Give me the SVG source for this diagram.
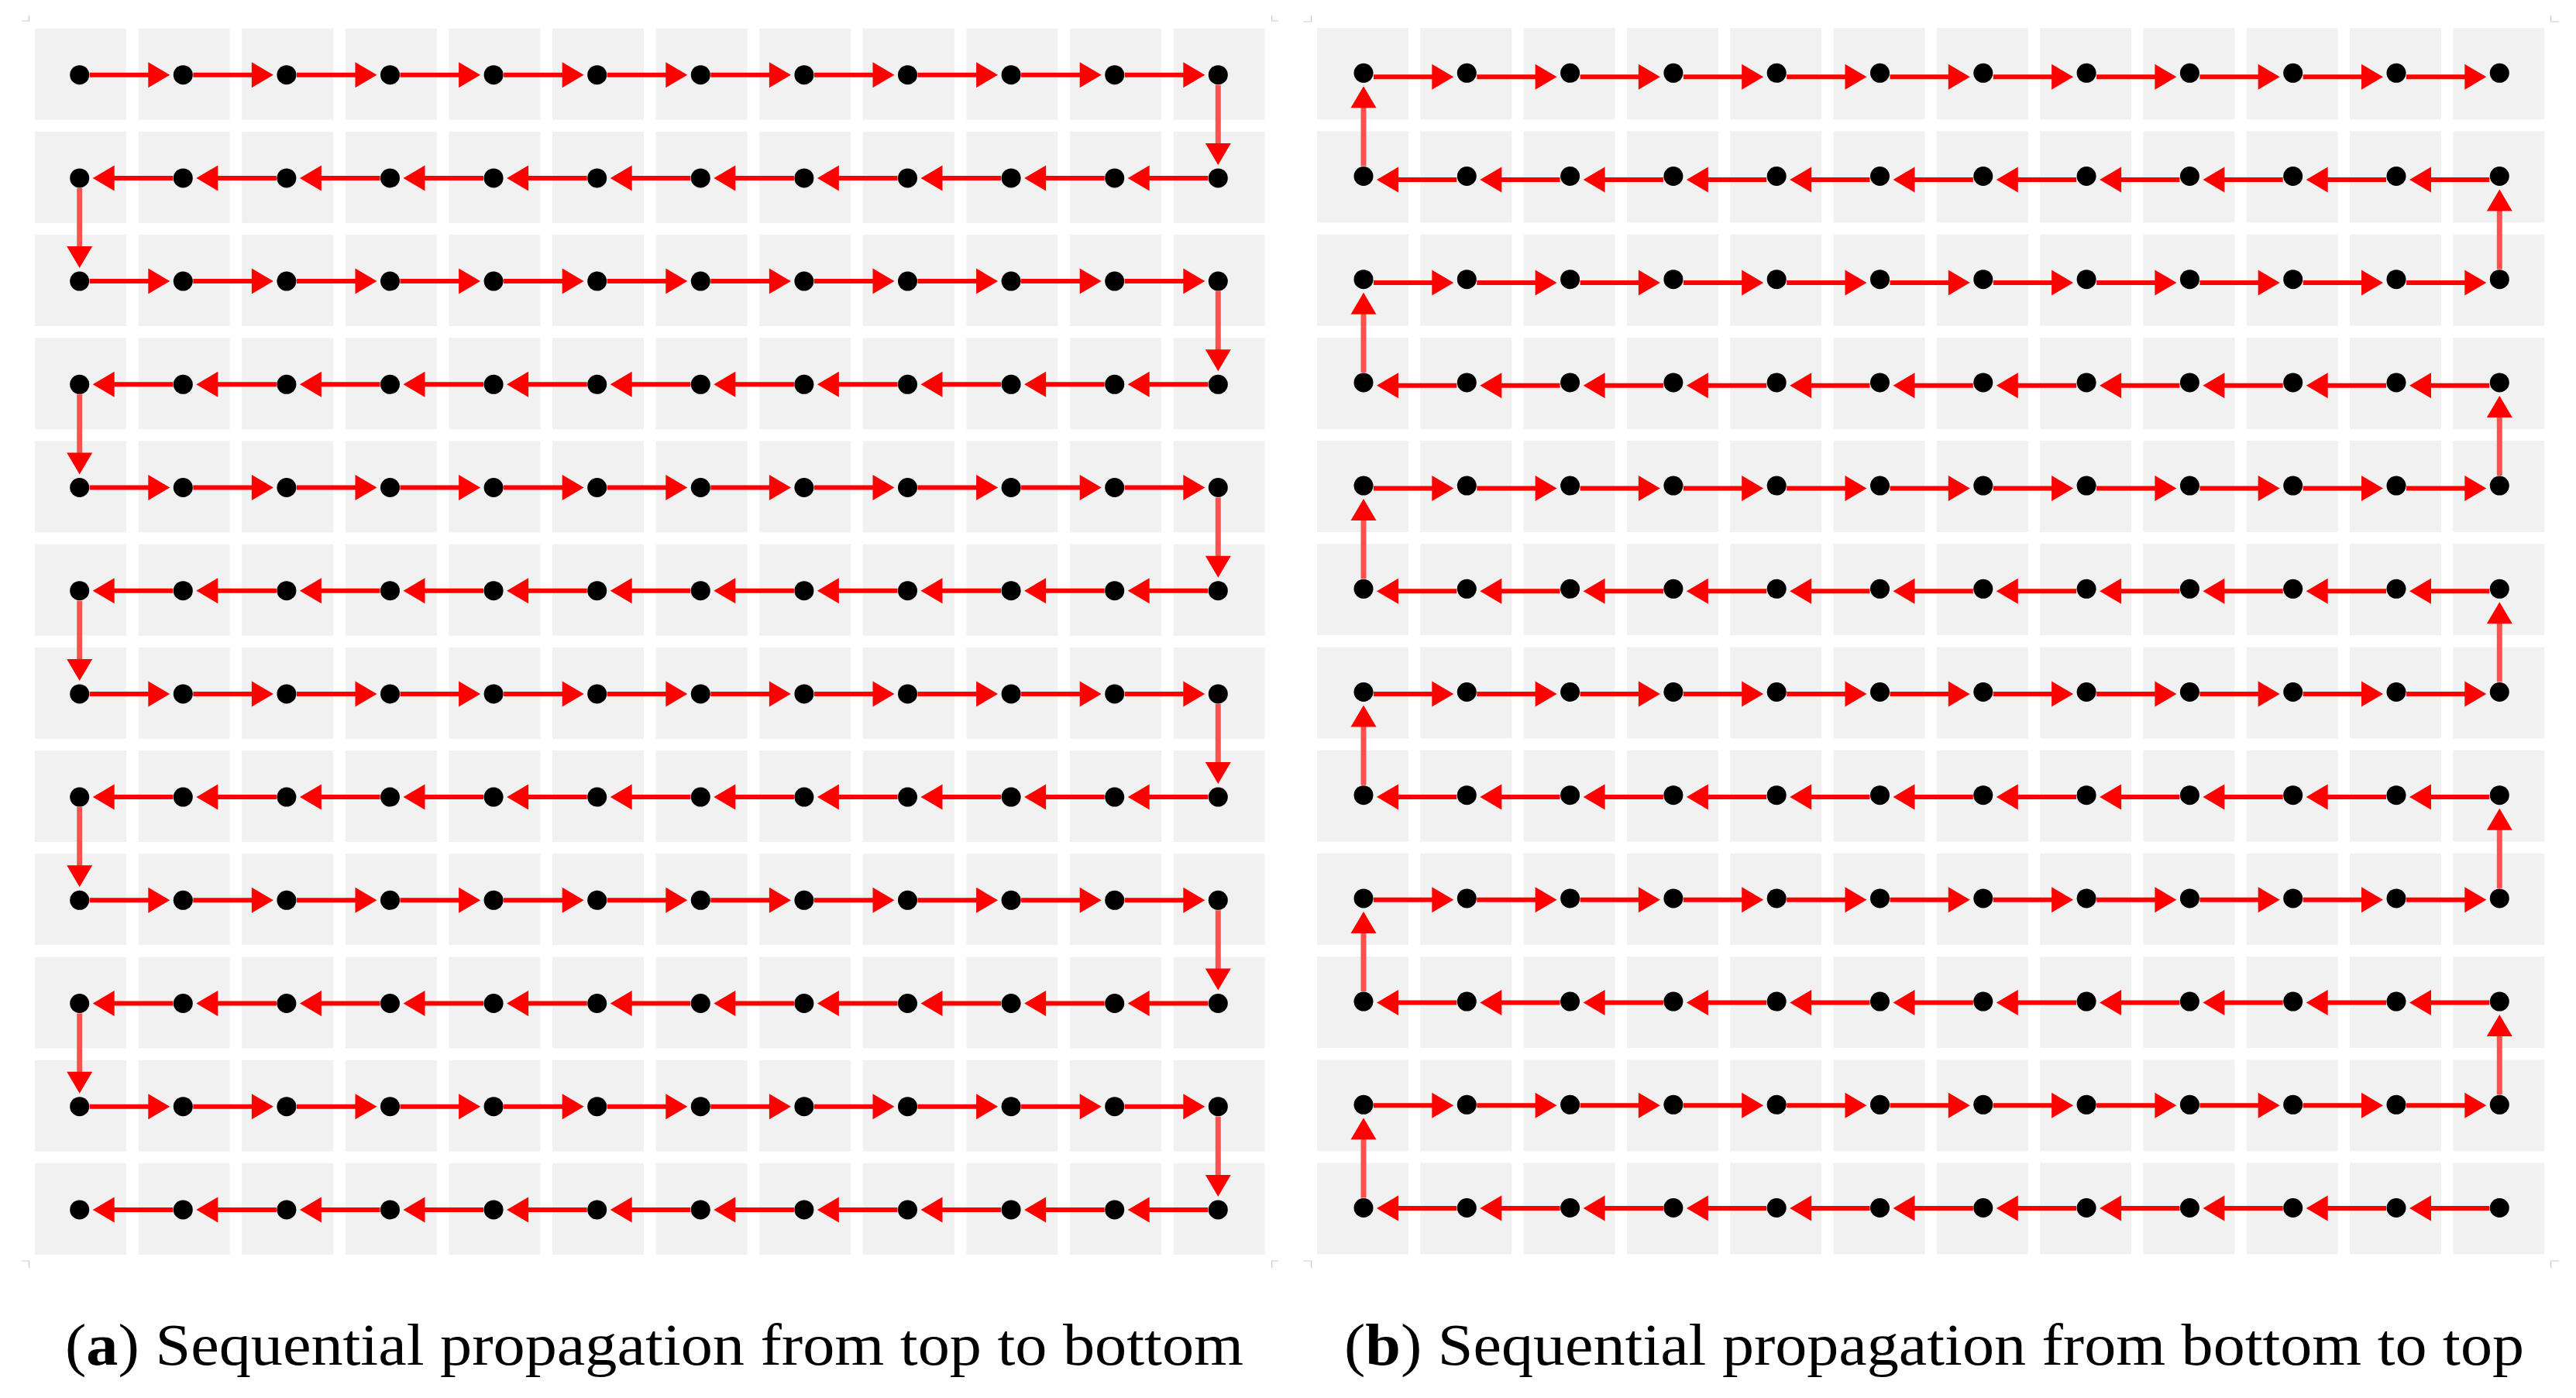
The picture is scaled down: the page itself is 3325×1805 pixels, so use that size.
<svg xmlns="http://www.w3.org/2000/svg" xmlns:xlink="http://www.w3.org/1999/xlink" width="3325" height="1805" viewBox="0 0 3325 1805">
<style>
.h{stroke:#ff0000;stroke-width:6;fill:none;marker-end:url(#ah)}
.v{stroke:#ff5050;stroke-width:7;fill:none;marker-end:url(#ah)}
.crop{stroke:#cccccc;stroke-width:1.2;fill:none}
.cap{font-family:'Liberation Serif','Times New Roman',serif;font-size:76px;fill:#000}
</style>
<defs>
<marker id="ah" markerUnits="userSpaceOnUse" viewBox="0 0 28 33" markerWidth="28" markerHeight="33" refX="2" refY="16.5" orient="auto" overflow="visible"><path d="M0,0L28,16.5L0,33z" fill="#ff0000"/></marker>
<g id="na"><rect x="-57.7" y="-60" width="118" height="118" fill="#f1f1f1"/><circle r="12.5" fill="#000"/></g>
<g id="nb"><rect x="-60" y="-58" width="118" height="118" fill="#f1f1f1"/><circle r="12.5" fill="#000"/></g>
</defs>
<rect width="3325" height="1805" fill="#fff"/>
<g id="crop-marks" class="crop">
<path d="M28 27H37.5V20"/><path d="M1641.7 20V27H1650"/><path d="M1682.3 28H1692.7V20"/><path d="M3292.7 20V28H3303.3"/>
<path d="M28 1628H37.7V1637"/><path d="M1641.7 1637V1628H1650"/><path d="M1682.7 1628H1692.7V1637"/><path d="M3292.7 1637V1628H3303"/>
</g>
<g id="panel-a-nodes">
<g transform="translate(0,96.7)"><g id="a-1-1"><use href="#na" x="102.7"/></g><g id="a-1-2"><use href="#na" x="236.3"/></g><g id="a-1-3"><use href="#na" x="369.9"/></g><g id="a-1-4"><use href="#na" x="503.5"/></g><g id="a-1-5"><use href="#na" x="637.1"/></g><g id="a-1-6"><use href="#na" x="770.7"/></g><g id="a-1-7"><use href="#na" x="904.3"/></g><g id="a-1-8"><use href="#na" x="1037.9"/></g><g id="a-1-9"><use href="#na" x="1171.5"/></g><g id="a-1-10"><use href="#na" x="1305.1"/></g><g id="a-1-11"><use href="#na" x="1438.7"/></g><g id="a-1-12"><use href="#na" x="1572.3"/></g></g>
<g transform="translate(0,229.9)"><g id="a-2-1"><use href="#na" x="102.7"/></g><g id="a-2-2"><use href="#na" x="236.3"/></g><g id="a-2-3"><use href="#na" x="369.9"/></g><g id="a-2-4"><use href="#na" x="503.5"/></g><g id="a-2-5"><use href="#na" x="637.1"/></g><g id="a-2-6"><use href="#na" x="770.7"/></g><g id="a-2-7"><use href="#na" x="904.3"/></g><g id="a-2-8"><use href="#na" x="1037.9"/></g><g id="a-2-9"><use href="#na" x="1171.5"/></g><g id="a-2-10"><use href="#na" x="1305.1"/></g><g id="a-2-11"><use href="#na" x="1438.7"/></g><g id="a-2-12"><use href="#na" x="1572.3"/></g></g>
<g transform="translate(0,363.1)"><g id="a-3-1"><use href="#na" x="102.7"/></g><g id="a-3-2"><use href="#na" x="236.3"/></g><g id="a-3-3"><use href="#na" x="369.9"/></g><g id="a-3-4"><use href="#na" x="503.5"/></g><g id="a-3-5"><use href="#na" x="637.1"/></g><g id="a-3-6"><use href="#na" x="770.7"/></g><g id="a-3-7"><use href="#na" x="904.3"/></g><g id="a-3-8"><use href="#na" x="1037.9"/></g><g id="a-3-9"><use href="#na" x="1171.5"/></g><g id="a-3-10"><use href="#na" x="1305.1"/></g><g id="a-3-11"><use href="#na" x="1438.7"/></g><g id="a-3-12"><use href="#na" x="1572.3"/></g></g>
<g transform="translate(0,496.3)"><g id="a-4-1"><use href="#na" x="102.7"/></g><g id="a-4-2"><use href="#na" x="236.3"/></g><g id="a-4-3"><use href="#na" x="369.9"/></g><g id="a-4-4"><use href="#na" x="503.5"/></g><g id="a-4-5"><use href="#na" x="637.1"/></g><g id="a-4-6"><use href="#na" x="770.7"/></g><g id="a-4-7"><use href="#na" x="904.3"/></g><g id="a-4-8"><use href="#na" x="1037.9"/></g><g id="a-4-9"><use href="#na" x="1171.5"/></g><g id="a-4-10"><use href="#na" x="1305.1"/></g><g id="a-4-11"><use href="#na" x="1438.7"/></g><g id="a-4-12"><use href="#na" x="1572.3"/></g></g>
<g transform="translate(0,629.5)"><g id="a-5-1"><use href="#na" x="102.7"/></g><g id="a-5-2"><use href="#na" x="236.3"/></g><g id="a-5-3"><use href="#na" x="369.9"/></g><g id="a-5-4"><use href="#na" x="503.5"/></g><g id="a-5-5"><use href="#na" x="637.1"/></g><g id="a-5-6"><use href="#na" x="770.7"/></g><g id="a-5-7"><use href="#na" x="904.3"/></g><g id="a-5-8"><use href="#na" x="1037.9"/></g><g id="a-5-9"><use href="#na" x="1171.5"/></g><g id="a-5-10"><use href="#na" x="1305.1"/></g><g id="a-5-11"><use href="#na" x="1438.7"/></g><g id="a-5-12"><use href="#na" x="1572.3"/></g></g>
<g transform="translate(0,762.7)"><g id="a-6-1"><use href="#na" x="102.7"/></g><g id="a-6-2"><use href="#na" x="236.3"/></g><g id="a-6-3"><use href="#na" x="369.9"/></g><g id="a-6-4"><use href="#na" x="503.5"/></g><g id="a-6-5"><use href="#na" x="637.1"/></g><g id="a-6-6"><use href="#na" x="770.7"/></g><g id="a-6-7"><use href="#na" x="904.3"/></g><g id="a-6-8"><use href="#na" x="1037.9"/></g><g id="a-6-9"><use href="#na" x="1171.5"/></g><g id="a-6-10"><use href="#na" x="1305.1"/></g><g id="a-6-11"><use href="#na" x="1438.7"/></g><g id="a-6-12"><use href="#na" x="1572.3"/></g></g>
<g transform="translate(0,895.9)"><g id="a-7-1"><use href="#na" x="102.7"/></g><g id="a-7-2"><use href="#na" x="236.3"/></g><g id="a-7-3"><use href="#na" x="369.9"/></g><g id="a-7-4"><use href="#na" x="503.5"/></g><g id="a-7-5"><use href="#na" x="637.1"/></g><g id="a-7-6"><use href="#na" x="770.7"/></g><g id="a-7-7"><use href="#na" x="904.3"/></g><g id="a-7-8"><use href="#na" x="1037.9"/></g><g id="a-7-9"><use href="#na" x="1171.5"/></g><g id="a-7-10"><use href="#na" x="1305.1"/></g><g id="a-7-11"><use href="#na" x="1438.7"/></g><g id="a-7-12"><use href="#na" x="1572.3"/></g></g>
<g transform="translate(0,1029.1)"><g id="a-8-1"><use href="#na" x="102.7"/></g><g id="a-8-2"><use href="#na" x="236.3"/></g><g id="a-8-3"><use href="#na" x="369.9"/></g><g id="a-8-4"><use href="#na" x="503.5"/></g><g id="a-8-5"><use href="#na" x="637.1"/></g><g id="a-8-6"><use href="#na" x="770.7"/></g><g id="a-8-7"><use href="#na" x="904.3"/></g><g id="a-8-8"><use href="#na" x="1037.9"/></g><g id="a-8-9"><use href="#na" x="1171.5"/></g><g id="a-8-10"><use href="#na" x="1305.1"/></g><g id="a-8-11"><use href="#na" x="1438.7"/></g><g id="a-8-12"><use href="#na" x="1572.3"/></g></g>
<g transform="translate(0,1162.3)"><g id="a-9-1"><use href="#na" x="102.7"/></g><g id="a-9-2"><use href="#na" x="236.3"/></g><g id="a-9-3"><use href="#na" x="369.9"/></g><g id="a-9-4"><use href="#na" x="503.5"/></g><g id="a-9-5"><use href="#na" x="637.1"/></g><g id="a-9-6"><use href="#na" x="770.7"/></g><g id="a-9-7"><use href="#na" x="904.3"/></g><g id="a-9-8"><use href="#na" x="1037.9"/></g><g id="a-9-9"><use href="#na" x="1171.5"/></g><g id="a-9-10"><use href="#na" x="1305.1"/></g><g id="a-9-11"><use href="#na" x="1438.7"/></g><g id="a-9-12"><use href="#na" x="1572.3"/></g></g>
<g transform="translate(0,1295.5)"><g id="a-10-1"><use href="#na" x="102.7"/></g><g id="a-10-2"><use href="#na" x="236.3"/></g><g id="a-10-3"><use href="#na" x="369.9"/></g><g id="a-10-4"><use href="#na" x="503.5"/></g><g id="a-10-5"><use href="#na" x="637.1"/></g><g id="a-10-6"><use href="#na" x="770.7"/></g><g id="a-10-7"><use href="#na" x="904.3"/></g><g id="a-10-8"><use href="#na" x="1037.9"/></g><g id="a-10-9"><use href="#na" x="1171.5"/></g><g id="a-10-10"><use href="#na" x="1305.1"/></g><g id="a-10-11"><use href="#na" x="1438.7"/></g><g id="a-10-12"><use href="#na" x="1572.3"/></g></g>
<g transform="translate(0,1428.7)"><g id="a-11-1"><use href="#na" x="102.7"/></g><g id="a-11-2"><use href="#na" x="236.3"/></g><g id="a-11-3"><use href="#na" x="369.9"/></g><g id="a-11-4"><use href="#na" x="503.5"/></g><g id="a-11-5"><use href="#na" x="637.1"/></g><g id="a-11-6"><use href="#na" x="770.7"/></g><g id="a-11-7"><use href="#na" x="904.3"/></g><g id="a-11-8"><use href="#na" x="1037.9"/></g><g id="a-11-9"><use href="#na" x="1171.5"/></g><g id="a-11-10"><use href="#na" x="1305.1"/></g><g id="a-11-11"><use href="#na" x="1438.7"/></g><g id="a-11-12"><use href="#na" x="1572.3"/></g></g>
<g transform="translate(0,1561.9)"><g id="a-12-1"><use href="#na" x="102.7"/></g><g id="a-12-2"><use href="#na" x="236.3"/></g><g id="a-12-3"><use href="#na" x="369.9"/></g><g id="a-12-4"><use href="#na" x="503.5"/></g><g id="a-12-5"><use href="#na" x="637.1"/></g><g id="a-12-6"><use href="#na" x="770.7"/></g><g id="a-12-7"><use href="#na" x="904.3"/></g><g id="a-12-8"><use href="#na" x="1037.9"/></g><g id="a-12-9"><use href="#na" x="1171.5"/></g><g id="a-12-10"><use href="#na" x="1305.1"/></g><g id="a-12-11"><use href="#na" x="1438.7"/></g><g id="a-12-12"><use href="#na" x="1572.3"/></g></g>
</g>
<g id="panel-b-nodes">
<g transform="translate(0,94.3)"><g id="b-1-1"><use href="#nb" x="1760"/></g><g id="b-1-2"><use href="#nb" x="1893.3"/></g><g id="b-1-3"><use href="#nb" x="2026.6"/></g><g id="b-1-4"><use href="#nb" x="2159.9"/></g><g id="b-1-5"><use href="#nb" x="2293.2"/></g><g id="b-1-6"><use href="#nb" x="2426.5"/></g><g id="b-1-7"><use href="#nb" x="2559.8"/></g><g id="b-1-8"><use href="#nb" x="2693.1"/></g><g id="b-1-9"><use href="#nb" x="2826.4"/></g><g id="b-1-10"><use href="#nb" x="2959.7"/></g><g id="b-1-11"><use href="#nb" x="3093"/></g><g id="b-1-12"><use href="#nb" x="3226.3"/></g></g>
<g transform="translate(0,227.5)"><g id="b-2-1"><use href="#nb" x="1760"/></g><g id="b-2-2"><use href="#nb" x="1893.3"/></g><g id="b-2-3"><use href="#nb" x="2026.6"/></g><g id="b-2-4"><use href="#nb" x="2159.9"/></g><g id="b-2-5"><use href="#nb" x="2293.2"/></g><g id="b-2-6"><use href="#nb" x="2426.5"/></g><g id="b-2-7"><use href="#nb" x="2559.8"/></g><g id="b-2-8"><use href="#nb" x="2693.1"/></g><g id="b-2-9"><use href="#nb" x="2826.4"/></g><g id="b-2-10"><use href="#nb" x="2959.7"/></g><g id="b-2-11"><use href="#nb" x="3093"/></g><g id="b-2-12"><use href="#nb" x="3226.3"/></g></g>
<g transform="translate(0,360.7)"><g id="b-3-1"><use href="#nb" x="1760"/></g><g id="b-3-2"><use href="#nb" x="1893.3"/></g><g id="b-3-3"><use href="#nb" x="2026.6"/></g><g id="b-3-4"><use href="#nb" x="2159.9"/></g><g id="b-3-5"><use href="#nb" x="2293.2"/></g><g id="b-3-6"><use href="#nb" x="2426.5"/></g><g id="b-3-7"><use href="#nb" x="2559.8"/></g><g id="b-3-8"><use href="#nb" x="2693.1"/></g><g id="b-3-9"><use href="#nb" x="2826.4"/></g><g id="b-3-10"><use href="#nb" x="2959.7"/></g><g id="b-3-11"><use href="#nb" x="3093"/></g><g id="b-3-12"><use href="#nb" x="3226.3"/></g></g>
<g transform="translate(0,493.9)"><g id="b-4-1"><use href="#nb" x="1760"/></g><g id="b-4-2"><use href="#nb" x="1893.3"/></g><g id="b-4-3"><use href="#nb" x="2026.6"/></g><g id="b-4-4"><use href="#nb" x="2159.9"/></g><g id="b-4-5"><use href="#nb" x="2293.2"/></g><g id="b-4-6"><use href="#nb" x="2426.5"/></g><g id="b-4-7"><use href="#nb" x="2559.8"/></g><g id="b-4-8"><use href="#nb" x="2693.1"/></g><g id="b-4-9"><use href="#nb" x="2826.4"/></g><g id="b-4-10"><use href="#nb" x="2959.7"/></g><g id="b-4-11"><use href="#nb" x="3093"/></g><g id="b-4-12"><use href="#nb" x="3226.3"/></g></g>
<g transform="translate(0,627.1)"><g id="b-5-1"><use href="#nb" x="1760"/></g><g id="b-5-2"><use href="#nb" x="1893.3"/></g><g id="b-5-3"><use href="#nb" x="2026.6"/></g><g id="b-5-4"><use href="#nb" x="2159.9"/></g><g id="b-5-5"><use href="#nb" x="2293.2"/></g><g id="b-5-6"><use href="#nb" x="2426.5"/></g><g id="b-5-7"><use href="#nb" x="2559.8"/></g><g id="b-5-8"><use href="#nb" x="2693.1"/></g><g id="b-5-9"><use href="#nb" x="2826.4"/></g><g id="b-5-10"><use href="#nb" x="2959.7"/></g><g id="b-5-11"><use href="#nb" x="3093"/></g><g id="b-5-12"><use href="#nb" x="3226.3"/></g></g>
<g transform="translate(0,760.3)"><g id="b-6-1"><use href="#nb" x="1760"/></g><g id="b-6-2"><use href="#nb" x="1893.3"/></g><g id="b-6-3"><use href="#nb" x="2026.6"/></g><g id="b-6-4"><use href="#nb" x="2159.9"/></g><g id="b-6-5"><use href="#nb" x="2293.2"/></g><g id="b-6-6"><use href="#nb" x="2426.5"/></g><g id="b-6-7"><use href="#nb" x="2559.8"/></g><g id="b-6-8"><use href="#nb" x="2693.1"/></g><g id="b-6-9"><use href="#nb" x="2826.4"/></g><g id="b-6-10"><use href="#nb" x="2959.7"/></g><g id="b-6-11"><use href="#nb" x="3093"/></g><g id="b-6-12"><use href="#nb" x="3226.3"/></g></g>
<g transform="translate(0,893.5)"><g id="b-7-1"><use href="#nb" x="1760"/></g><g id="b-7-2"><use href="#nb" x="1893.3"/></g><g id="b-7-3"><use href="#nb" x="2026.6"/></g><g id="b-7-4"><use href="#nb" x="2159.9"/></g><g id="b-7-5"><use href="#nb" x="2293.2"/></g><g id="b-7-6"><use href="#nb" x="2426.5"/></g><g id="b-7-7"><use href="#nb" x="2559.8"/></g><g id="b-7-8"><use href="#nb" x="2693.1"/></g><g id="b-7-9"><use href="#nb" x="2826.4"/></g><g id="b-7-10"><use href="#nb" x="2959.7"/></g><g id="b-7-11"><use href="#nb" x="3093"/></g><g id="b-7-12"><use href="#nb" x="3226.3"/></g></g>
<g transform="translate(0,1026.7)"><g id="b-8-1"><use href="#nb" x="1760"/></g><g id="b-8-2"><use href="#nb" x="1893.3"/></g><g id="b-8-3"><use href="#nb" x="2026.6"/></g><g id="b-8-4"><use href="#nb" x="2159.9"/></g><g id="b-8-5"><use href="#nb" x="2293.2"/></g><g id="b-8-6"><use href="#nb" x="2426.5"/></g><g id="b-8-7"><use href="#nb" x="2559.8"/></g><g id="b-8-8"><use href="#nb" x="2693.1"/></g><g id="b-8-9"><use href="#nb" x="2826.4"/></g><g id="b-8-10"><use href="#nb" x="2959.7"/></g><g id="b-8-11"><use href="#nb" x="3093"/></g><g id="b-8-12"><use href="#nb" x="3226.3"/></g></g>
<g transform="translate(0,1159.9)"><g id="b-9-1"><use href="#nb" x="1760"/></g><g id="b-9-2"><use href="#nb" x="1893.3"/></g><g id="b-9-3"><use href="#nb" x="2026.6"/></g><g id="b-9-4"><use href="#nb" x="2159.9"/></g><g id="b-9-5"><use href="#nb" x="2293.2"/></g><g id="b-9-6"><use href="#nb" x="2426.5"/></g><g id="b-9-7"><use href="#nb" x="2559.8"/></g><g id="b-9-8"><use href="#nb" x="2693.1"/></g><g id="b-9-9"><use href="#nb" x="2826.4"/></g><g id="b-9-10"><use href="#nb" x="2959.7"/></g><g id="b-9-11"><use href="#nb" x="3093"/></g><g id="b-9-12"><use href="#nb" x="3226.3"/></g></g>
<g transform="translate(0,1293.1)"><g id="b-10-1"><use href="#nb" x="1760"/></g><g id="b-10-2"><use href="#nb" x="1893.3"/></g><g id="b-10-3"><use href="#nb" x="2026.6"/></g><g id="b-10-4"><use href="#nb" x="2159.9"/></g><g id="b-10-5"><use href="#nb" x="2293.2"/></g><g id="b-10-6"><use href="#nb" x="2426.5"/></g><g id="b-10-7"><use href="#nb" x="2559.8"/></g><g id="b-10-8"><use href="#nb" x="2693.1"/></g><g id="b-10-9"><use href="#nb" x="2826.4"/></g><g id="b-10-10"><use href="#nb" x="2959.7"/></g><g id="b-10-11"><use href="#nb" x="3093"/></g><g id="b-10-12"><use href="#nb" x="3226.3"/></g></g>
<g transform="translate(0,1426.3)"><g id="b-11-1"><use href="#nb" x="1760"/></g><g id="b-11-2"><use href="#nb" x="1893.3"/></g><g id="b-11-3"><use href="#nb" x="2026.6"/></g><g id="b-11-4"><use href="#nb" x="2159.9"/></g><g id="b-11-5"><use href="#nb" x="2293.2"/></g><g id="b-11-6"><use href="#nb" x="2426.5"/></g><g id="b-11-7"><use href="#nb" x="2559.8"/></g><g id="b-11-8"><use href="#nb" x="2693.1"/></g><g id="b-11-9"><use href="#nb" x="2826.4"/></g><g id="b-11-10"><use href="#nb" x="2959.7"/></g><g id="b-11-11"><use href="#nb" x="3093"/></g><g id="b-11-12"><use href="#nb" x="3226.3"/></g></g>
<g transform="translate(0,1559.5)"><g id="b-12-1"><use href="#nb" x="1760"/></g><g id="b-12-2"><use href="#nb" x="1893.3"/></g><g id="b-12-3"><use href="#nb" x="2026.6"/></g><g id="b-12-4"><use href="#nb" x="2159.9"/></g><g id="b-12-5"><use href="#nb" x="2293.2"/></g><g id="b-12-6"><use href="#nb" x="2426.5"/></g><g id="b-12-7"><use href="#nb" x="2559.8"/></g><g id="b-12-8"><use href="#nb" x="2693.1"/></g><g id="b-12-9"><use href="#nb" x="2826.4"/></g><g id="b-12-10"><use href="#nb" x="2959.7"/></g><g id="b-12-11"><use href="#nb" x="3093"/></g><g id="b-12-12"><use href="#nb" x="3226.3"/></g></g>
</g>
<g id="connectors">
<g id="panel-a-connectors">
<g class="h" transform="translate(0,96.7)"><path d="M115.7 0H193.3"/><path d="M249.3 0H326.9"/><path d="M382.9 0H460.5"/><path d="M516.5 0H594.1"/><path d="M650.1 0H727.7"/><path d="M783.7 0H861.3"/><path d="M917.3 0H994.9"/><path d="M1050.9 0H1128.5"/><path d="M1184.5 0H1262.1"/><path d="M1318.1 0H1395.7"/><path d="M1451.7 0H1529.3"/></g>
<g class="h" transform="translate(0,229.9)"><path d="M223.3 0H145.7"/><path d="M356.9 0H279.3"/><path d="M490.5 0H412.9"/><path d="M624.1 0H546.5"/><path d="M757.7 0H680.1"/><path d="M891.3 0H813.7"/><path d="M1024.9 0H947.3"/><path d="M1158.5 0H1080.9"/><path d="M1292.1 0H1214.5"/><path d="M1425.7 0H1348.1"/><path d="M1559.3 0H1481.7"/></g>
<g class="h" transform="translate(0,363.1)"><path d="M115.7 0H193.3"/><path d="M249.3 0H326.9"/><path d="M382.9 0H460.5"/><path d="M516.5 0H594.1"/><path d="M650.1 0H727.7"/><path d="M783.7 0H861.3"/><path d="M917.3 0H994.9"/><path d="M1050.9 0H1128.5"/><path d="M1184.5 0H1262.1"/><path d="M1318.1 0H1395.7"/><path d="M1451.7 0H1529.3"/></g>
<g class="h" transform="translate(0,496.3)"><path d="M223.3 0H145.7"/><path d="M356.9 0H279.3"/><path d="M490.5 0H412.9"/><path d="M624.1 0H546.5"/><path d="M757.7 0H680.1"/><path d="M891.3 0H813.7"/><path d="M1024.9 0H947.3"/><path d="M1158.5 0H1080.9"/><path d="M1292.1 0H1214.5"/><path d="M1425.7 0H1348.1"/><path d="M1559.3 0H1481.7"/></g>
<g class="h" transform="translate(0,629.5)"><path d="M115.7 0H193.3"/><path d="M249.3 0H326.9"/><path d="M382.9 0H460.5"/><path d="M516.5 0H594.1"/><path d="M650.1 0H727.7"/><path d="M783.7 0H861.3"/><path d="M917.3 0H994.9"/><path d="M1050.9 0H1128.5"/><path d="M1184.5 0H1262.1"/><path d="M1318.1 0H1395.7"/><path d="M1451.7 0H1529.3"/></g>
<g class="h" transform="translate(0,762.7)"><path d="M223.3 0H145.7"/><path d="M356.9 0H279.3"/><path d="M490.5 0H412.9"/><path d="M624.1 0H546.5"/><path d="M757.7 0H680.1"/><path d="M891.3 0H813.7"/><path d="M1024.9 0H947.3"/><path d="M1158.5 0H1080.9"/><path d="M1292.1 0H1214.5"/><path d="M1425.7 0H1348.1"/><path d="M1559.3 0H1481.7"/></g>
<g class="h" transform="translate(0,895.9)"><path d="M115.7 0H193.3"/><path d="M249.3 0H326.9"/><path d="M382.9 0H460.5"/><path d="M516.5 0H594.1"/><path d="M650.1 0H727.7"/><path d="M783.7 0H861.3"/><path d="M917.3 0H994.9"/><path d="M1050.9 0H1128.5"/><path d="M1184.5 0H1262.1"/><path d="M1318.1 0H1395.7"/><path d="M1451.7 0H1529.3"/></g>
<g class="h" transform="translate(0,1029.1)"><path d="M223.3 0H145.7"/><path d="M356.9 0H279.3"/><path d="M490.5 0H412.9"/><path d="M624.1 0H546.5"/><path d="M757.7 0H680.1"/><path d="M891.3 0H813.7"/><path d="M1024.9 0H947.3"/><path d="M1158.5 0H1080.9"/><path d="M1292.1 0H1214.5"/><path d="M1425.7 0H1348.1"/><path d="M1559.3 0H1481.7"/></g>
<g class="h" transform="translate(0,1162.3)"><path d="M115.7 0H193.3"/><path d="M249.3 0H326.9"/><path d="M382.9 0H460.5"/><path d="M516.5 0H594.1"/><path d="M650.1 0H727.7"/><path d="M783.7 0H861.3"/><path d="M917.3 0H994.9"/><path d="M1050.9 0H1128.5"/><path d="M1184.5 0H1262.1"/><path d="M1318.1 0H1395.7"/><path d="M1451.7 0H1529.3"/></g>
<g class="h" transform="translate(0,1295.5)"><path d="M223.3 0H145.7"/><path d="M356.9 0H279.3"/><path d="M490.5 0H412.9"/><path d="M624.1 0H546.5"/><path d="M757.7 0H680.1"/><path d="M891.3 0H813.7"/><path d="M1024.9 0H947.3"/><path d="M1158.5 0H1080.9"/><path d="M1292.1 0H1214.5"/><path d="M1425.7 0H1348.1"/><path d="M1559.3 0H1481.7"/></g>
<g class="h" transform="translate(0,1428.7)"><path d="M115.7 0H193.3"/><path d="M249.3 0H326.9"/><path d="M382.9 0H460.5"/><path d="M516.5 0H594.1"/><path d="M650.1 0H727.7"/><path d="M783.7 0H861.3"/><path d="M917.3 0H994.9"/><path d="M1050.9 0H1128.5"/><path d="M1184.5 0H1262.1"/><path d="M1318.1 0H1395.7"/><path d="M1451.7 0H1529.3"/></g>
<g class="h" transform="translate(0,1561.9)"><path d="M223.3 0H145.7"/><path d="M356.9 0H279.3"/><path d="M490.5 0H412.9"/><path d="M624.1 0H546.5"/><path d="M757.7 0H680.1"/><path d="M891.3 0H813.7"/><path d="M1024.9 0H947.3"/><path d="M1158.5 0H1080.9"/><path d="M1292.1 0H1214.5"/><path d="M1425.7 0H1348.1"/><path d="M1559.3 0H1481.7"/></g>
<g class="v"><path d="M1572.3 109.7V186.9"/><path d="M1572.3 376.1V453.3"/><path d="M1572.3 642.5V719.7"/><path d="M1572.3 908.9V986.1"/><path d="M1572.3 1175.3V1252.5"/><path d="M1572.3 1441.7V1518.9"/>
<path d="M102.7 242.9V320.1"/><path d="M102.7 509.3V586.5"/><path d="M102.7 775.7V852.9"/><path d="M102.7 1042.1V1119.3"/><path d="M102.7 1308.5V1385.7"/></g>
</g>
<g id="panel-b-connectors">
<g class="h" transform="translate(0,99.3)"><path d="M1773 0H1850.3"/><path d="M1906.3 0H1983.6"/><path d="M2039.6 0H2116.9"/><path d="M2172.9 0H2250.2"/><path d="M2306.2 0H2383.5"/><path d="M2439.5 0H2516.8"/><path d="M2572.8 0H2650.1"/><path d="M2706.1 0H2783.4"/><path d="M2839.4 0H2916.7"/><path d="M2972.7 0H3050"/><path d="M3106 0H3183.3"/></g>
<g class="h" transform="translate(0,232.1)"><path d="M1880.3 0H1803"/><path d="M2013.6 0H1936.3"/><path d="M2146.9 0H2069.6"/><path d="M2280.2 0H2202.9"/><path d="M2413.5 0H2336.2"/><path d="M2546.8 0H2469.5"/><path d="M2680.1 0H2602.8"/><path d="M2813.4 0H2736.1"/><path d="M2946.7 0H2869.4"/><path d="M3080 0H3002.7"/><path d="M3213.3 0H3136"/></g>
<g class="h" transform="translate(0,364.9)"><path d="M1773 0H1850.3"/><path d="M1906.3 0H1983.6"/><path d="M2039.6 0H2116.9"/><path d="M2172.9 0H2250.2"/><path d="M2306.2 0H2383.5"/><path d="M2439.5 0H2516.8"/><path d="M2572.8 0H2650.1"/><path d="M2706.1 0H2783.4"/><path d="M2839.4 0H2916.7"/><path d="M2972.7 0H3050"/><path d="M3106 0H3183.3"/></g>
<g class="h" transform="translate(0,497.7)"><path d="M1880.3 0H1803"/><path d="M2013.6 0H1936.3"/><path d="M2146.9 0H2069.6"/><path d="M2280.2 0H2202.9"/><path d="M2413.5 0H2336.2"/><path d="M2546.8 0H2469.5"/><path d="M2680.1 0H2602.8"/><path d="M2813.4 0H2736.1"/><path d="M2946.7 0H2869.4"/><path d="M3080 0H3002.7"/><path d="M3213.3 0H3136"/></g>
<g class="h" transform="translate(0,630.5)"><path d="M1773 0H1850.3"/><path d="M1906.3 0H1983.6"/><path d="M2039.6 0H2116.9"/><path d="M2172.9 0H2250.2"/><path d="M2306.2 0H2383.5"/><path d="M2439.5 0H2516.8"/><path d="M2572.8 0H2650.1"/><path d="M2706.1 0H2783.4"/><path d="M2839.4 0H2916.7"/><path d="M2972.7 0H3050"/><path d="M3106 0H3183.3"/></g>
<g class="h" transform="translate(0,763.3)"><path d="M1880.3 0H1803"/><path d="M2013.6 0H1936.3"/><path d="M2146.9 0H2069.6"/><path d="M2280.2 0H2202.9"/><path d="M2413.5 0H2336.2"/><path d="M2546.8 0H2469.5"/><path d="M2680.1 0H2602.8"/><path d="M2813.4 0H2736.1"/><path d="M2946.7 0H2869.4"/><path d="M3080 0H3002.7"/><path d="M3213.3 0H3136"/></g>
<g class="h" transform="translate(0,896.1)"><path d="M1773 0H1850.3"/><path d="M1906.3 0H1983.6"/><path d="M2039.6 0H2116.9"/><path d="M2172.9 0H2250.2"/><path d="M2306.2 0H2383.5"/><path d="M2439.5 0H2516.8"/><path d="M2572.8 0H2650.1"/><path d="M2706.1 0H2783.4"/><path d="M2839.4 0H2916.7"/><path d="M2972.7 0H3050"/><path d="M3106 0H3183.3"/></g>
<g class="h" transform="translate(0,1028.9)"><path d="M1880.3 0H1803"/><path d="M2013.6 0H1936.3"/><path d="M2146.9 0H2069.6"/><path d="M2280.2 0H2202.9"/><path d="M2413.5 0H2336.2"/><path d="M2546.8 0H2469.5"/><path d="M2680.1 0H2602.8"/><path d="M2813.4 0H2736.1"/><path d="M2946.7 0H2869.4"/><path d="M3080 0H3002.7"/><path d="M3213.3 0H3136"/></g>
<g class="h" transform="translate(0,1161.7)"><path d="M1773 0H1850.3"/><path d="M1906.3 0H1983.6"/><path d="M2039.6 0H2116.9"/><path d="M2172.9 0H2250.2"/><path d="M2306.2 0H2383.5"/><path d="M2439.5 0H2516.8"/><path d="M2572.8 0H2650.1"/><path d="M2706.1 0H2783.4"/><path d="M2839.4 0H2916.7"/><path d="M2972.7 0H3050"/><path d="M3106 0H3183.3"/></g>
<g class="h" transform="translate(0,1294.5)"><path d="M1880.3 0H1803"/><path d="M2013.6 0H1936.3"/><path d="M2146.9 0H2069.6"/><path d="M2280.2 0H2202.9"/><path d="M2413.5 0H2336.2"/><path d="M2546.8 0H2469.5"/><path d="M2680.1 0H2602.8"/><path d="M2813.4 0H2736.1"/><path d="M2946.7 0H2869.4"/><path d="M3080 0H3002.7"/><path d="M3213.3 0H3136"/></g>
<g class="h" transform="translate(0,1427.3)"><path d="M1773 0H1850.3"/><path d="M1906.3 0H1983.6"/><path d="M2039.6 0H2116.9"/><path d="M2172.9 0H2250.2"/><path d="M2306.2 0H2383.5"/><path d="M2439.5 0H2516.8"/><path d="M2572.8 0H2650.1"/><path d="M2706.1 0H2783.4"/><path d="M2839.4 0H2916.7"/><path d="M2972.7 0H3050"/><path d="M3106 0H3183.3"/></g>
<g class="h" transform="translate(0,1560.1)"><path d="M1880.3 0H1803"/><path d="M2013.6 0H1936.3"/><path d="M2146.9 0H2069.6"/><path d="M2280.2 0H2202.9"/><path d="M2413.5 0H2336.2"/><path d="M2546.8 0H2469.5"/><path d="M2680.1 0H2602.8"/><path d="M2813.4 0H2736.1"/><path d="M2946.7 0H2869.4"/><path d="M3080 0H3002.7"/><path d="M3213.3 0H3136"/></g>
<g class="v"><path d="M1760 214.5V137.3"/><path d="M1760 480.9V403.7"/><path d="M1760 747.3V670.1"/><path d="M1760 1013.7V936.5"/><path d="M1760 1280.1V1202.9"/><path d="M1760 1546.5V1469.3"/>
<path d="M3226.3 347.7V270.5"/><path d="M3226.3 614.1V536.9"/><path d="M3226.3 880.5V803.3"/><path d="M3226.3 1146.9V1069.7"/><path d="M3226.3 1413.3V1336.1"/></g>
</g>
</g>
<g id="captions">
<text class="cap" x="84" y="1762" textLength="1521" lengthAdjust="spacingAndGlyphs">(<tspan font-weight="bold">a</tspan>) Sequential propagation from top to bottom</text>
<text class="cap" x="1735" y="1762" textLength="1523" lengthAdjust="spacingAndGlyphs">(<tspan font-weight="bold">b</tspan>) Sequential propagation from bottom to top</text>
</g>
</svg>
